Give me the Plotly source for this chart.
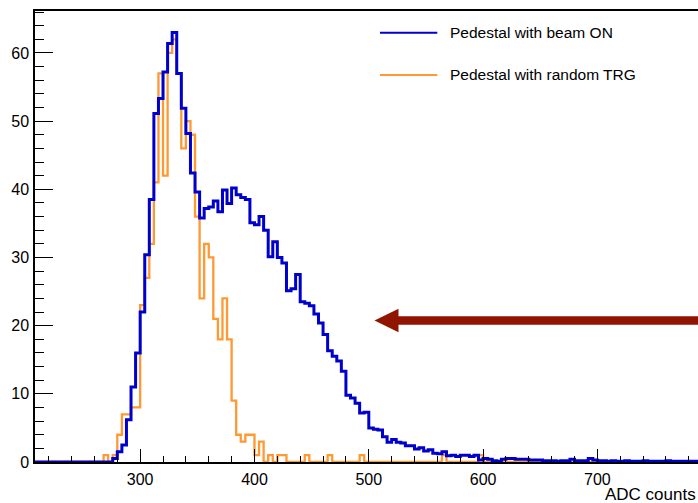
import numpy as np
import plotly.graph_objects as go

# ---- data (histogram bins: 4 ADC counts wide, starting at 208) ----
BIN_START = 208
BIN_WIDTH = 4

beam_on = [
    0, 0, 0, 0, 0, 0, 0, 0, 0, 0, 0, 0, 0, 0, 0, 0, 0,           # k 0-16
    0.5, 1.5, 2.5, 6.2, 11, 16, 22, 30.4, 38.5, 51.1,               # k 17-26
    53.3, 57.2, 61.4, 63, 57, 51.9, 48.2, 42.4, 39.6, 35.8,         # k 27-36
    37.2, 37.4, 38.3, 36.7, 39.9, 37.9, 40.2, 39.2, 38.8, 38.5,     # k 37-46
    35.1, 34.8, 36.0, 34.0, 30.1, 32.3, 30.0, 29.2, 25.1, 25.4,     # k 47-56
    27.5, 23.5, 23.3, 22.9, 21.7, 20.4, 18.7, 16.3, 15.5, 14.8,     # k 57-66
    13.3, 9.8, 9.4, 8.6, 7.2, 7.3, 5.0, 4.8, 4.7, 3.7,              # k 67-76
    2.9, 3.3, 2.9, 2.8, 2.4, 2.4, 1.9, 2.1, 1.6, 1.8,               # k 77-86
    1.3, 1.2, 1.5, 0.9, 1.0, 0.8, 1.0, 1.0, 0.8, 1.0,               # k 87-96
    0.3, 0.5, 0.4, 0.2, 0.1, 0.4, 0.5, 0.5, 0.4, 0.4,               # k 97-106
    0.4, 0.3, 0.3, 0.3, 0.2, 0.2, 0.2, 0.1, 0.2, 0.2,               # k 107-116
    0.4, 0.2, 0.2, 0.2, 0.5, 0.3, 0.2,                              # k 117-123
    0.2, 0.1, 0.2, 0.1, 0.1, 0.2, 0.1, 0.1, 0.1, 0.2, 0.1,          # k 124-134
    0.1, 0.1, 0.1, 0.2, 0.1, 0.1, 0.1, 0.1, 0.1, 0.1,               # k 135-144
]

random_trg = [
    0, 0, 0, 0, 0, 0, 0, 0, 0, 0, 0, 0, 0, 0, 0,                    # k 0-14
    1, 0, 1, 4, 7, 7, 8, 8, 23, 27, 32,                             # k 15-25
    41, 57, 42, 60, 62, 57, 46, 50, 48, 36,                         # k 26-35
    24, 32, 30, 21, 18, 24, 18, 9, 4, 3,                            # k 36-45
    4, 4, 1, 3, 0, 1, 0, 1, 1, 0,                                   # k 46-55
    0, 0, 0, 1, 0, 0, 0, 0, 1, 0,                                   # k 56-65
    0, 0, 0, 0, 0, 1, 0, 0, 0, 0,                                   # k 66-75
    0, 0, 0, 0, 0, 0, 0, 0, 0, 0,                                   # k 76-85
    0, 0, 0, 1, 0, 0, 0, 0, 0, 0,                                   # k 86-95
    0, 1, 0, 0, 0, 0, 0, 0, 0, 0,                                   # k 96-105
    0, 0, 0, 0, 0, 0, 0, 0, 0, 0,                                   # k 106-115
    0, 0, 0, 0, 0, 0, 0, 0, 0, 0,                                   # k 116-125
    0, 0, 0, 0, 0, 0, 0, 0, 0, 0,                                   # k 126-135
    0, 0, 0, 0, 0, 0, 0, 0, 0,                                      # k 136-144
]

series_names = ["Pedestal with beam ON", "Pedestal with random TRG"]
x_tick_labels = ["300", "400", "500", "600", "700"]
x_title = "ADC counts"

# annotation arrow (data coordinates)
ARROW_TIP_X = 505
ARROW_HEAD_X = 526
ARROW_Y = 20.75
ARROW_HEAD_HALF = 1.72
ARROW_SHAFT_HALF = 0.62

X_RANGE = [208, 788]
Y_MAX = 63 * 1.05

BLUE = "#0000cc"
ORANGE = "#ff9933"
ARROW_COLOR = "#911400"
FONT = "Liberation Sans, Arial, Helvetica, sans-serif"


def step_xy(values):
    n = len(values)
    edges = BIN_START + BIN_WIDTH * np.arange(n + 1)
    y = list(values) + [values[-1]]
    return edges, y


fig = go.Figure()
ex, ey = step_xy(random_trg)
fig.add_trace(go.Scatter(x=ex, y=ey, mode="lines", line=dict(shape="hv", color=ORANGE, width=2.3),
                         name=series_names[1], showlegend=False))
bx, by = step_xy(beam_on)
fig.add_trace(go.Scatter(x=bx, y=by, mode="lines", line=dict(shape="hv", color=BLUE, width=3),
                         name=series_names[0], showlegend=False))

shapes = []
# arrow shaft
shapes.append(dict(type="rect", xref="x", yref="y", x0=ARROW_HEAD_X - 1, x1=X_RANGE[1] + 20,
                   y0=ARROW_Y - ARROW_SHAFT_HALF, y1=ARROW_Y + ARROW_SHAFT_HALF,
                   fillcolor=ARROW_COLOR, line=dict(width=0), layer="above"))
# arrow head
shapes.append(dict(type="path", xref="x", yref="y",
                   path=f"M {ARROW_TIP_X},{ARROW_Y} L {ARROW_HEAD_X},{ARROW_Y + ARROW_HEAD_HALF} "
                        f"L {ARROW_HEAD_X},{ARROW_Y - ARROW_HEAD_HALF} Z",
                   fillcolor=ARROW_COLOR, line=dict(width=0), layer="above"))

# legend (ROOT TLegend style)
leg_x0, leg_x1, leg_text_x = 0.5204, 0.6068, 0.6234
leg_y = [0.9519, 0.8581]
leg_colors = [BLUE, ORANGE]
annotations = []
for name, col, yy in zip(series_names, leg_colors, leg_y):
    shapes.append(dict(type="line", xref="paper", yref="paper", x0=leg_x0, x1=leg_x1, y0=yy, y1=yy,
                       line=dict(color=col, width=2)))
    annotations.append(dict(text=name, xref="paper", yref="paper", x=leg_text_x, y=yy,
                            xanchor="left", yanchor="middle", showarrow=False,
                            font=dict(family=FONT, size=15.5, color="black")))

annotations.append(dict(text=x_title, xref="paper", yref="paper", x=1.0, y=-0.071,
                        xanchor="right", yanchor="middle", showarrow=False,
                        font=dict(family=FONT, size=17, color="black")))

fig.update_layout(
    width=698, height=503,
    margin=dict(l=35, r=0, t=11, b=41),
    paper_bgcolor="white", plot_bgcolor="white",
    font=dict(family=FONT, size=16, color="black"),
    shapes=shapes, annotations=annotations,
    showlegend=False,
)
fig.update_xaxes(
    range=X_RANGE, showgrid=False, zeroline=False,
    showline=True, linecolor="black", linewidth=1.5, mirror=True,
    ticks="inside", ticklen=13, tickwidth=1, tickcolor="black",
    tickmode="array", tickvals=[int(t) for t in x_tick_labels], ticktext=x_tick_labels,
    ticklabelstandoff=2,
    minor=dict(ticks="inside", ticklen=6.5, tickwidth=1, tickcolor="black", dtick=20, tick0=0),
    tickfont=dict(family=FONT, size=16, color="black"),
)
fig.update_yaxes(
    range=[0, Y_MAX], showgrid=False, zeroline=False,
    showline=True, linecolor="black", linewidth=1.5,
    ticks="inside", ticklen=18, tickwidth=1, tickcolor="black",
    dtick=10, tick0=0, ticklabelstandoff=1,
    minor=dict(ticks="inside", ticklen=9, tickwidth=1, tickcolor="black", dtick=2, tick0=0),
    tickfont=dict(family=FONT, size=16, color="black"),
)

fig.write_html("out.html")
